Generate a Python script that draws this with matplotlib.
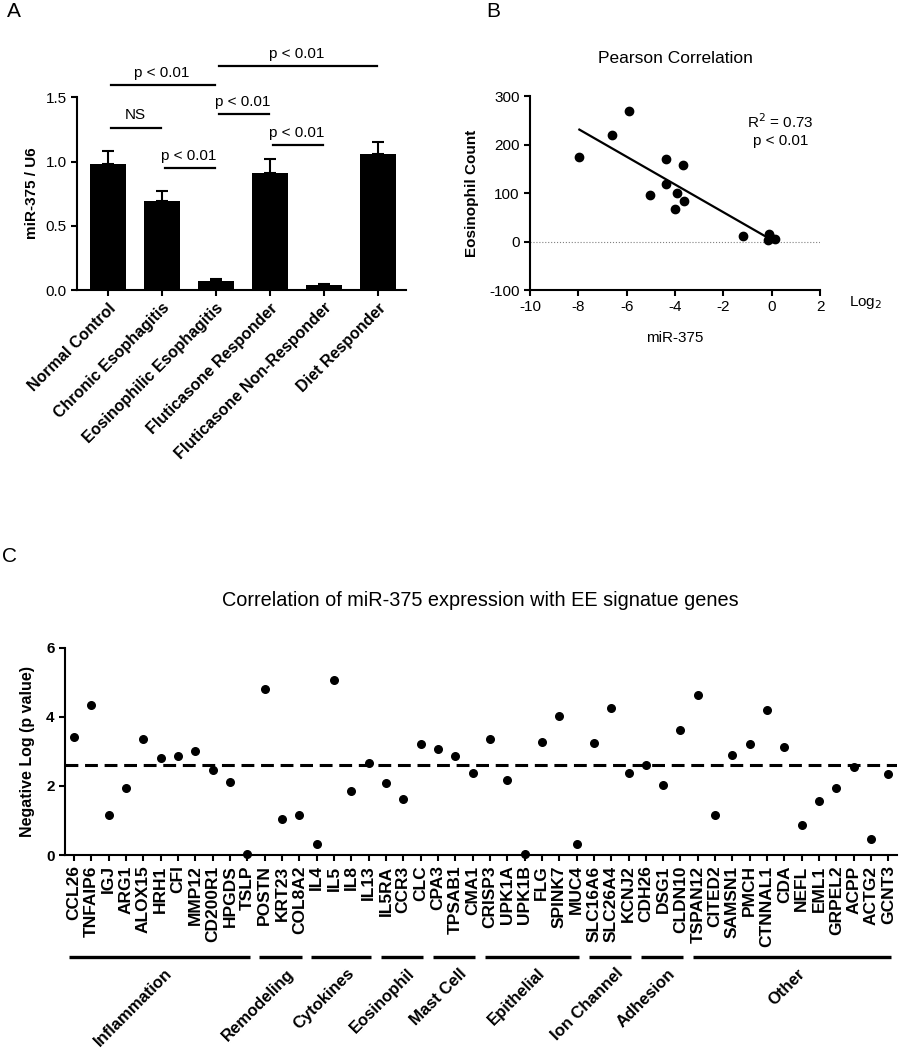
import numpy as np
import matplotlib
matplotlib.use('Agg')
import matplotlib.pyplot as plt
import matplotlib.transforms as mtransforms

plt.rcParams['font.family'] = ['Liberation Sans', 'DejaVu Sans']
plt.rcParams['axes.unicode_minus'] = False

# Painel A: miR-375 / U6 por grupo
grupos = ['Normal Control', 'Chronic Esophagitis', 'Eosinophilic Esophagitis',
          'Fluticasone Responder', 'Fluticasone Non-Responder', 'Diet Responder']
mir375 = [0.98, 0.69, 0.067, 0.91, 0.036, 1.055]
erro = [0.105, 0.08, 0.016, 0.11, 0.011, 0.095]
# comparacoes: (grupo i, grupo j, altura, texto)
comparacoes = [(0, 1, 1.265, 'NS'), (1, 2, 0.948, 'p < 0.01'), (0, 2, 1.595, 'p < 0.01'),
               (2, 3, 1.37, 'p < 0.01'), (3, 4, 1.127, 'p < 0.01'), (2, 5, 1.743, 'p < 0.01')]

# Painel B: correlacao de Pearson
mir_log2 = [-5.90, -6.62, -7.96, -4.37, -3.66, -4.37, -5.02, -3.92, -3.61, -4.00,
            -1.19, -0.10, -0.15, 0.15, -0.05]
eos_count = [270, 221, 174, 170, 159, 120, 97, 100, 83, 67, 12, 16, 3, 5, 8]

# Painel C: genes da assinatura EE
genes = ['CCL26', 'TNFAIP6', 'IGJ', 'ARG1', 'ALOX15', 'HRH1', 'CFI', 'MMP12', 'CD200R1',
         'HPGDS', 'TSLP', 'POSTN', 'KRT23', 'COL8A2', 'IL4', 'IL5', 'IL8', 'IL13', 'IL5RA',
         'CCR3', 'CLC', 'CPA3', 'TPSAB1', 'CMA1', 'CRISP3', 'UPK1A', 'UPK1B', 'FLG', 'SPINK7',
         'MUC4', 'SLC16A6', 'SLC26A4', 'KCNJ2', 'CDH26', 'DSG1', 'CLDN10', 'TSPAN12', 'CITED2',
         'SAMSN1', 'PMCH', 'CTNNAL1', 'CDA', 'NEFL', 'EML1', 'GRPEL2', 'ACPP', 'ACTG2', 'GCNT3']
neg_log_p = [3.43, 4.35, 1.15, 1.93, 3.35, 2.81, 2.86, 3.02, 2.45, 2.11, 0.02,
             4.80, 1.05, 1.15, 0.31, 5.06, 1.85, 2.67, 2.08, 1.63, 3.21, 3.08,
             2.86, 2.37, 3.37, 2.16, 0.04, 3.26, 4.02, 0.33, 3.23, 4.26, 2.36,
             2.62, 2.03, 3.63, 4.64, 1.17, 2.89, 3.21, 4.20, 3.13, 0.86, 1.56,
             1.93, 2.56, 0.47, 2.34]
limiar = 2.6
categorias = ['Inflammation', 'Remodeling', 'Cytokines', 'Eosinophil', 'Mast Cell',
              'Epithelial', 'Ion Channel', 'Adhesion', 'Other']
n_por_categoria = [11, 3, 4, 3, 3, 6, 3, 3, 12]

fig = plt.figure(figsize=(8.99, 10.5), dpi=100)


def estilo(ax, lw=1.5):
    for s in ['top', 'right']:
        ax.spines[s].set_visible(False)
    for s in ['left', 'bottom']:
        ax.spines[s].set_linewidth(lw)
    ax.tick_params(width=lw, length=4)


# ---- A ----
axA = fig.add_axes([0.0857, 0.7238, 0.366, 0.1835])
x = np.arange(len(grupos))
axA.bar(x, mir375, width=0.66, color='black')
axA.errorbar(x, mir375, yerr=[np.zeros(len(erro)), erro], fmt='none', ecolor='black',
             elinewidth=1.5, capsize=4, capthick=1.5)
for i, j, h, txt in comparacoes:
    axA.plot([i + 0.05, j - 0.02], [h, h], color='black', lw=1.6, clip_on=False)
    axA.text((i + j) / 2, h + 0.04, txt, ha='center', va='bottom', fontsize=11)
axA.set_xlim(-0.57, 5.52)
axA.set_ylim(0, 1.5)
axA.set_yticks([0, 0.5, 1.0, 1.5])
axA.set_yticklabels(['0.0', '0.5', '1.0', '1.5'], fontsize=11)
axA.set_xticks(x)
axA.set_xticklabels(grupos, rotation=45, ha='right', rotation_mode='anchor',
                    fontsize=11.5, fontweight='bold')
axA.set_ylabel('miR-375 / U6', fontsize=11, fontweight='bold', labelpad=5)
estilo(axA)
fig.text(0.008, 0.984, 'A', fontsize=15)

# ---- B ----
axB = fig.add_axes([0.5896, 0.7238, 0.3226, 0.1844])
axB.scatter(mir_log2, eos_count, s=36, color='black', zorder=3)
coef = np.polyfit(mir_log2, eos_count, 1)
xl = np.array([min(mir_log2), max(mir_log2) - 0.3])
axB.plot(xl, np.polyval(coef, xl), color='black', lw=1.6)
axB.axhline(0, color='gray', lw=0.8, ls=':')
axB.set_xlim(-10, 2)
axB.set_ylim(-100, 300)
axB.set_xticks(range(-10, 3, 2))
axB.set_yticks(range(-100, 301, 100))
axB.tick_params(labelsize=11)
axB.set_xlabel('miR-375', fontsize=11, labelpad=12)
axB.set_ylabel('Eosinophil Count', fontsize=11, fontweight='bold', labelpad=7)
axB.set_title('Pearson Correlation', fontsize=12.5, pad=24)
axB.text(0.35, 247, 'R$^2$ = 0.73', ha='center', va='center', fontsize=11)
axB.text(0.35, 208, 'p < 0.01', ha='center', va='center', fontsize=11)
axB.text(3.2, -108, 'Log$_2$', ha='left', va='top', fontsize=11)
estilo(axB)
fig.text(0.541, 0.984, 'B', fontsize=15)

# ---- C ----
axC = fig.add_axes([0.0723, 0.1857, 0.925, 0.1974])
xg = np.arange(len(genes))
axC.scatter(xg, neg_log_p, s=30, color='black', zorder=3, clip_on=False)
axC.axhline(limiar, color='black', lw=2.2, dashes=(4.2, 2.2))
axC.set_xlim(-0.52, 47.47)
axC.set_ylim(0, 6)
axC.set_yticks([0, 2, 4, 6])
axC.set_yticklabels(['0', '2', '4', '6'], fontsize=11, fontweight='bold')
axC.set_xticks(xg)
axC.set_xticklabels(genes, rotation=90, fontsize=12.5, fontweight='bold')
axC.set_ylabel('Negative Log (p value)', fontsize=11.5, fontweight='bold', labelpad=8)
axC.set_title('Correlation of miR-375 expression with EE signatue genes',
              fontsize=14.3, pad=30)
estilo(axC)

trans = mtransforms.blended_transform_factory(axC.transData, axC.transAxes)
inicio = 0
for cat, n in zip(categorias, n_por_categoria):
    fim = inicio + n - 1
    axC.plot([inicio - 0.3, fim + 0.15], [-0.49, -0.49], color='black', lw=2.4,
             transform=trans, clip_on=False, solid_capstyle='butt')
    meio = (inicio - 0.3 + fim + 0.15) / 2
    axC.text(meio + 0.3, -0.535, cat, rotation=45, ha='right', va='top',
             rotation_mode='anchor', fontsize=12, fontweight='bold', transform=trans)
    inicio += n
fig.text(0.002, 0.465, 'C', fontsize=15)

fig.savefig('out.png', dpi=100)
